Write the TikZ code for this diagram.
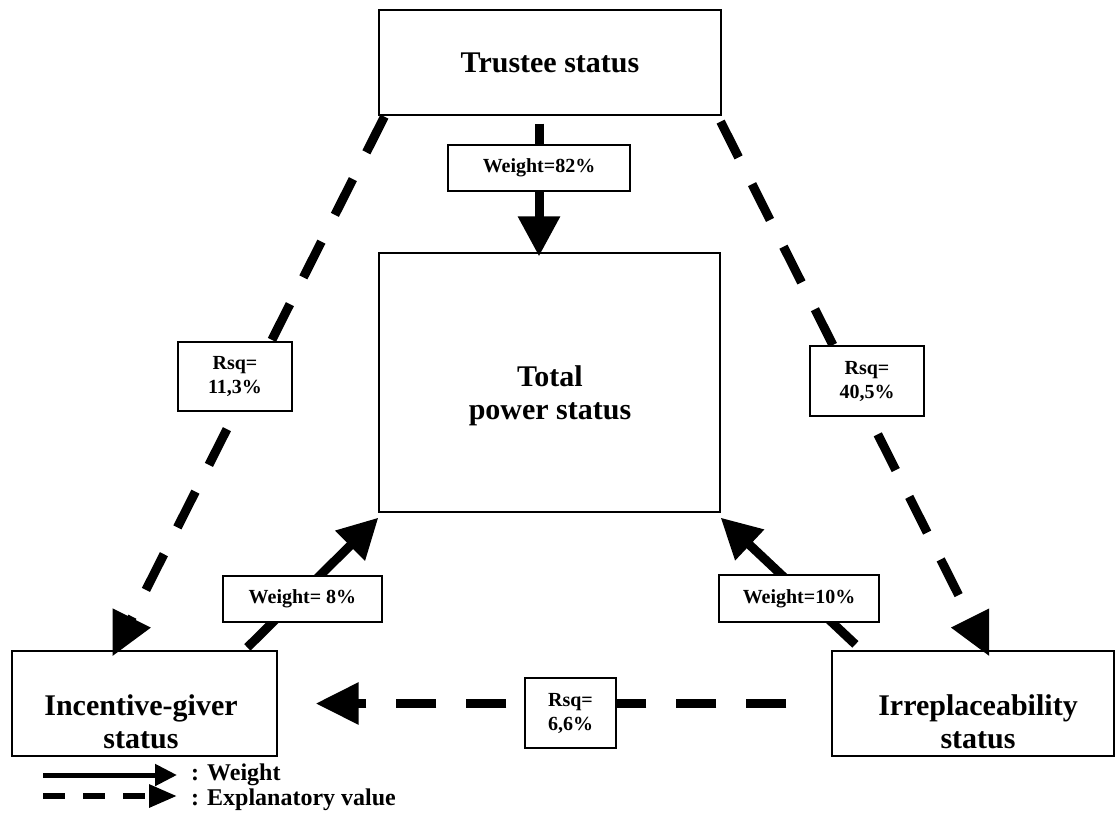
\documentclass[tikz,border=0pt]{standalone}
\usepackage{fontspec}
\setmainfont{Liberation Serif}
\usetikzlibrary{arrows.meta, calc}
\tikzstyle{bigbox}     = [draw, line width=1.2pt, minimum height=105pt, inner sep=0pt]
\tikzstyle{bigtext}    = [align=center, inner sep=0pt, font=\fontsize{30}{33}\selectfont\bfseries]
\tikzstyle{valbox}     = [draw, line width=1.8pt, fill=white, align=center, inner sep=0pt, font=\fontsize{20}{24}\selectfont\bfseries]
\tikzstyle{legtext}    = [anchor=base west, inner xsep=14pt, inner ysep=0pt, font=\fontsize{24}{26}\selectfont\bfseries]
\tikzstyle{weight}     = [draw, line width=9pt, -{Triangle[length=40pt, width=40pt]}]
\tikzstyle{explain}    = [draw, line width=9pt, dash pattern=on 40pt off 30pt, -{Triangle[length=43pt, width=40pt]}]
\tikzstyle{legweight}  = [draw, line width=5pt, -{Triangle[length=22pt, width=21pt]}]
\tikzstyle{legexplain} = [draw, line width=6pt, dash pattern=on 22pt off 18pt, -{Triangle[length=28pt, width=22pt]}]

\begin{document}
\begin{tikzpicture}[x=1pt, y=-1pt]
\useasboundingbox (0,0) rectangle (1115,812);

% boxes
\node [bigbox, bigtext, minimum width=342pt] at ( 550  ,  62.5) (trustee)       {Trustee status};
\node [bigbox, minimum width=341pt, minimum height=259pt]
                                             at ( 549.5, 382.5) (total)         {};
\node [bigtext]                              at ( 550  , 396  ) (totaltext)     {Total\\power status};
\node [bigbox, minimum width=265pt]          at ( 144.5, 703.5) (incentive)     {};
\node [bigtext]                              at ( 141  , 721.5) (incentivetext) {Incentive-giver\\status};
\node [bigbox, minimum width=282pt]          at ( 973  , 703.5) (irrepl)        {};
\node [bigtext]                              at ( 978  , 721.5) (irrepltext)    {Irreplaceability\\status};

% connectors
\draw [weight]  ($(trustee.south)+(-11,8)$)          -- ($(total.north)+(-10.5,4)$);
\draw [weight]  ($(incentive.north west)+(236,-3)$)  -- ($(total.south west)+(0,5)$);
\draw [weight]  ($(irrepl.north west)+(24,-6)$)      -- ($(total.south east)+(0,5)$);
\draw [explain] ($(trustee.south west)+(6,1)$)       -- ($(incentive.north west)+(101,6)$);
\draw [explain] ($(trustee.south east)+(-1,6)$)      -- ($(irrepl.north west)+(158,6)$);
\draw [explain] ($(irrepl.west)+(-45,0)$)            -- ($(incentive.east)+(38,0)$);

% values
\node [valbox, minimum width=182pt, minimum height=46pt] at ( 539  , 168  ) (w82)  {Weight=82\%};
\node [valbox, minimum width=114pt, minimum height=69pt] at ( 235  , 376.5) (r113) {Rsq=\\11,3\%};
\node [valbox, minimum width=114pt, minimum height=70pt] at ( 867  , 381  ) (r405) {Rsq=\\40,5\%};
\node [valbox, minimum width=159pt, minimum height=46pt] at ( 302.5, 599  ) (w8)   {Weight= 8\%};
\node [valbox, minimum width=160pt, minimum height=47pt] at ( 799  , 598.5) (w10)  {Weight=10\%};
\node [valbox, minimum width=91pt,  minimum height=70pt] at ( 570.5, 713  ) (r66)  {Rsq=\\6,6\%};

% legend
\coordinate (lw0) at (43, 775);
\coordinate (le0) at (43, 796);
\node [legtext] at (177, 780) (lweight) {: Weight};
\node [legtext] at (177, 805) (lexpl)   {: Explanatory value};
\draw [legweight]  (lw0) -- (lw0 -| lweight.west);
\draw [legexplain] (le0) -- (le0 -| lexpl.west);

\end{tikzpicture}
\end{document}
